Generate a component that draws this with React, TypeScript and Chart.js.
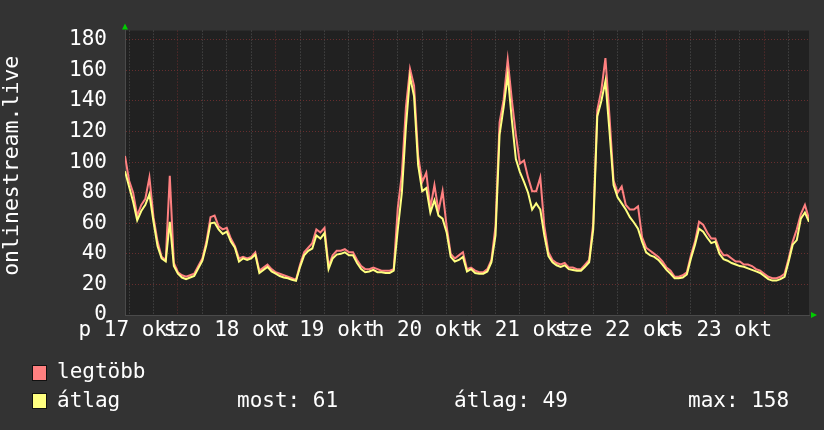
import { useEffect, useRef } from 'react';
import { Chart, registerables } from 'chart.js';

Chart.register(...registerables);

// x axis: hours from 17 Oct 11:00 (one point per hour, 7 days)
const dayLabels = ['p 17 okt', 'szo 18 okt', 'v 19 okt', 'h 20 okt', 'k 21 okt', 'sze 22 okt', 'cs 23 okt'];
const yLabelValues = [0, 20, 40, 60, 80, 100, 120, 140, 160, 180];
const yTitle = 'onlinestream.live';

// "legtöbb" (max) per hour
const legtobb = [
  104, 88, 80, 65, 72, 76, 90, 64, 48, 38, 36, 91, 34, 28, 26, 25, 26, 27, 32, 37,
  48, 64, 65, 58, 56, 57, 50, 45, 37, 38, 37, 38, 41, 29, 31, 33, 30, 28, 27, 26,
  25, 24, 23, 33, 41, 44, 47, 56, 54, 57, 32, 39, 42, 42, 43, 41, 41, 36, 32, 30,
  30, 31, 30, 29, 29, 29, 30, 70, 92, 136, 161, 150, 104, 87, 93, 70, 85, 68, 81, 58,
  40, 37, 39, 41, 30, 31, 29, 28, 28, 30, 36, 58, 126, 141, 167, 141, 118, 99, 101, 90,
  81, 81, 90, 58, 41, 36, 34, 33, 34, 31, 31, 30, 30, 33, 36, 60, 134, 147, 168, 130,
  88, 80, 84, 72, 69, 69, 71, 51, 44, 42, 40, 38, 35, 31, 29, 25, 25, 26, 28, 39,
  48, 61, 59, 54, 50, 50, 43, 39, 39, 37, 35, 35, 33, 33, 32, 30, 29, 27, 25, 24,
  24, 25, 27, 37, 48, 56, 66, 72, 63,
];

// "átlag" (average) per hour
const atlag = [
  94, 84, 74, 62, 68, 72, 79, 61, 45, 37, 35, 61, 32, 27, 24.5, 23.5, 24.5, 25.5, 30.5, 35.5,
  46, 60, 60.5, 56, 53, 54.5, 48, 44, 35, 37, 36, 37, 39.5, 27.5, 29.5, 31.5, 28.5, 27, 25.5, 24.5,
  24, 23, 22.3, 31.5, 39, 42, 43.5, 52, 50, 53.5, 30, 37, 39.5, 40, 41, 39, 39, 34, 30, 28,
  28.5, 29.5, 28, 28, 27.5, 27.5, 29, 56, 80, 123, 156, 143, 98, 81, 83, 67, 75, 65, 63, 54,
  38, 35, 36, 38, 28.5, 30, 27.5, 27, 27, 28.5, 34.5, 52, 118, 136, 157, 128, 102, 93.5, 87, 80,
  69, 73, 69, 52, 38.5, 34.5, 32.5, 31.5, 32.5, 30, 29.5, 29, 29, 31.5, 34.5, 56, 130, 140, 153, 120,
  85, 77, 73, 69, 64, 60.5, 56.5, 48, 41, 39, 38, 36, 33, 29.5, 27, 24, 24, 24.5, 26.5, 37,
  46, 56.5, 54.5, 50.5, 47, 48, 40, 36.5, 35.5, 34, 33, 32, 31.5, 30.5, 29.5, 28.5, 27.5, 25.5, 23.5, 22.5,
  22.5, 23.5, 25, 35, 46, 49, 63, 67, 61,
];

const legendStats = { most: '61', atlag: '49', max: '158' };

const FONT = "'DejaVu Sans Mono', monospace";
const FS = 21;
const MAJOR = 'rgba(120,50,50,0.8)';
const MINOR = 'rgba(95,95,95,0.8)';

const rrdPlugin = {
  id: 'rrdLook',
  beforeDraw(chart: any) {
    const { ctx, chartArea: a } = chart;
    ctx.save();
    ctx.fillStyle = '#333333';
    ctx.fillRect(0, 0, chart.width, chart.height);
    ctx.fillStyle = '#212121';
    ctx.fillRect(a.left, a.top, a.right - a.left, a.bottom - a.top);
    ctx.restore();
  },
  afterDraw(chart: any) {
    const { ctx, chartArea: a } = chart;
    ctx.save();
    // vertical axis title
    ctx.save();
    ctx.translate(12, (a.top + a.bottom) / 2 - 7);
    ctx.rotate(-Math.PI / 2);
    ctx.font = `21.5px ${FONT}`;
    ctx.fillStyle = '#ffffff';
    ctx.textAlign = 'center';
    ctx.textBaseline = 'middle';
    ctx.fillText(yTitle, 0, 0);
    ctx.restore();
    // arrows
    ctx.fillStyle = '#00cc00';
    ctx.beginPath();
    ctx.moveTo(a.left - 3, a.top - 1);
    ctx.lineTo(a.left + 3, a.top - 1);
    ctx.lineTo(a.left, a.top - 7);
    ctx.closePath();
    ctx.fill();
    ctx.beginPath();
    ctx.moveTo(a.right + 2, a.bottom - 3);
    ctx.lineTo(a.right + 2, a.bottom + 3);
    ctx.lineTo(a.right + 8, a.bottom);
    ctx.closePath();
    ctx.fill();
    ctx.restore();
  },
};

export default function App() {
  const ref = useRef<HTMLCanvasElement>(null);

  useEffect(() => {
    const hours = legtobb.map((_, i) => i);
    const chart = new Chart(ref.current!, {
      type: 'line',
      data: {
        datasets: [
          {
            label: 'legtöbb',
            data: hours.map((h, i) => ({ x: h, y: legtobb[i] })),
            borderColor: '#ff8080',
            borderWidth: 2,
            pointRadius: 0,
            tension: 0,
            order: 2,
          },
          {
            label: 'átlag',
            data: hours.map((h, i) => ({ x: h, y: atlag[i] })),
            borderColor: '#ffff80',
            borderWidth: 2,
            pointRadius: 0,
            tension: 0,
            order: 1,
          },
        ],
      },
      options: {
        animation: false,
        responsive: false,
        devicePixelRatio: 1,
        layout: { padding: { top: 14, right: 15, bottom: 0, left: 0 } },
        plugins: { legend: { display: false }, tooltip: { enabled: false } },
        scales: {
          x: {
            type: 'linear',
            min: 0,
            max: 168,
            afterFit: (s: any) => { s.height = 115; },
            afterBuildTicks: (s: any) => {
              const t = [];
              for (let h = 1; h <= 168; h += 6) t.push({ value: h });
              s.ticks = t;
            },
            ticks: {
              autoSkip: false,
              maxRotation: 0,
              minRotation: 0,
              padding: 3,
              color: '#ffffff',
              font: { family: FONT, size: FS },
              callback: (v: any) => ((v - 1) % 24 === 0 ? dayLabels[(v - 1) / 24] : ''),
            },
            grid: {
              drawTicks: false,
              lineWidth: 1,
              color: (c: any) => (c.tick && (c.tick.value - 13) % 24 === 0 ? MAJOR : MINOR),
            },
            border: { display: true, color: '#4a4a4a', width: 1, dash: [1, 2] },
          },
          y: {
            min: 0,
            max: 186,
            afterFit: (s: any) => { s.width = 125; },
            afterBuildTicks: (s: any) => {
              const t = [];
              for (let v = 0; v <= 180; v += 5) t.push({ value: v });
              s.ticks = t;
            },
            ticks: {
              padding: 18,
              color: '#ffffff',
              font: { family: FONT, size: FS },
              callback: (v: any) => (yLabelValues.includes(v) ? String(v) : ''),
            },
            grid: {
              drawTicks: false,
              lineWidth: 1,
              color: (c: any) => (c.tick && c.tick.value % 20 === 0 ? MAJOR : MINOR),
            },
            border: { display: true, color: '#4a4a4a', width: 1, dash: [1, 2] },
          },
        },
      },
      plugins: [rrdPlugin],
    });
    return () => chart.destroy();
  }, []);

  const txt: any = {
    position: 'absolute',
    fontFamily: FONT,
    fontSize: FS,
    lineHeight: '24px',
    color: '#ffffff',
    whiteSpace: 'pre',
  };
  const sq: any = {
    position: 'absolute',
    left: 32,
    width: 15,
    height: 16,
    boxSizing: 'border-box',
    border: '1px solid #111',
  };

  return (
    <div style={{ position: 'fixed', left: 0, top: 0, width: 824, height: 430, background: '#333333', overflow: 'hidden' }}>
      <canvas ref={ref} width={824} height={430} style={{ position: 'absolute', left: 0, top: 0 }} />
      <div style={{ ...sq, top: 365, background: '#ff8080' }} />
      <div style={{ ...txt, left: 57, top: 359 }}>legtöbb</div>
      <div style={{ ...sq, top: 393, background: '#ffff80' }} />
      <div style={{ ...txt, left: 57, top: 388 }}>átlag</div>
      <div style={{ ...txt, left: 237, top: 388 }}>most: {legendStats.most}</div>
      <div style={{ ...txt, left: 454, top: 388 }}>átlag: {legendStats.atlag}</div>
      <div style={{ ...txt, left: 688, top: 388 }}>max: {legendStats.max}</div>
    </div>
  );
}
